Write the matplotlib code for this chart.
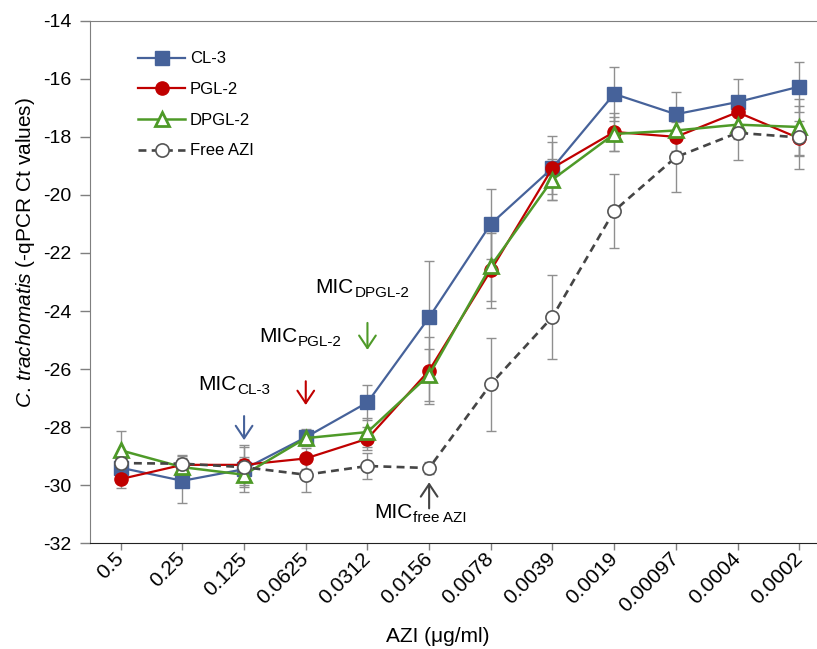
import matplotlib
matplotlib.use("Agg")
from matplotlib import pyplot as plt
import matplotlib.transforms as mtransforms

plt.rcParams['font.family'] = ['Liberation Sans', 'DejaVu Sans']
plt.rcParams['mathtext.fontset'] = 'custom'
plt.rcParams['mathtext.rm'] = 'Liberation Sans'
plt.rcParams['mathtext.it'] = 'Liberation Sans:italic'
plt.rcParams['axes.unicode_minus'] = False

# AZI concentrations (ug/ml)
conc = ['0.5', '0.25', '0.125', '0.0625', '0.0312', '0.0156', '0.0078',
        '0.0039', '0.0019', '0.00097', '0.0004', '0.0002']

cl3 = [-29.4, -29.85, -29.45, -28.35, -27.15, -24.22, -21.0, -19.07, -16.52, -17.22, -16.8, -16.27]
cl3_err = [0.3, 0.75, 0.35, 0.3, 0.6, 1.95, 1.2, 1.1, 0.93, 0.75, 0.8, 0.86]
pgl2 = [-29.79, -29.3, -29.3, -29.08, -28.4, -26.05, -22.6, -19.07, -17.83, -18.0, -17.15, -18.05]
pgl2_err = [0.3, 0.3, 0.7, 0.35, 0.4, 1.15, 1.3, 0.9, 0.65, 0.55, 0.5, 0.6]
dpgl2 = [-28.8, -29.38, -29.64, -28.38, -28.17, -26.2, -22.45, -19.47, -17.9, -17.78, -17.58, -17.66]
dpgl2_err = [0.65, 0.3, 0.6, 0.25, 0.5, 0.9, 1.2, 0.7, 0.6, 0.7, 0.5, 0.95]
free_azi = [-29.24, -29.26, -29.38, -29.64, -29.34, -29.41, -26.52, -24.2, -20.55, -18.7, -17.86, -18.02]
free_err = [0.2, 0.3, 0.7, 0.6, 0.45, 0.2, 1.6, 1.45, 1.27, 1.2, 0.93, 1.07]

blue = '#46629a'
red = '#c00000'
green = '#4e9a28'
grey = '#454545'
errc = '#8f8f8f'

fig = plt.figure(figsize=(8.17, 6.49), dpi=100)
ax = fig.add_axes([0.110, 0.163, 0.906, 0.805])
x = list(range(len(conc)))

series = [
    (cl3, cl3_err, 'CL-3', dict(color=blue, marker='s', mfc=blue, mec=blue, ls='-', lw=1.6, ms=9.5)),
    (pgl2, pgl2_err, 'PGL-2', dict(color=red, marker='o', mfc=red, mec=red, ls='-', lw=1.6, ms=9.5)),
    (dpgl2, dpgl2_err, 'DPGL-2', dict(color=green, marker='^', mfc='white', mec=green, mew=2, ls='-', lw=1.8, ms=10)),
    (free_azi, free_err, 'Free AZI', dict(color=grey, marker='o', mfc='white', mec='#555555', mew=1.2, ls=(0, (3, 2)), lw=1.9, ms=9.5)),
]

for vals, err, lab, st in series:
    ax.errorbar(x, vals, yerr=err, fmt='none', ecolor=errc, elinewidth=1, capsize=3.5, capthick=1, zorder=1)
for i, (vals, err, lab, st) in enumerate(series):
    ax.plot(x, vals, label=lab, zorder=2 + i, **st)

ax.set_xlim(-0.5, len(conc) - 0.5)
ax.set_ylim(-32, -14)
ax.set_yticks(range(-32, -13, 2))
ax.set_xticks(x)
ax.set_xticklabels(conc, rotation=45, ha='right', va='center', rotation_mode='anchor')
off = mtransforms.ScaledTranslation(5 / 72, -6 / 72, fig.dpi_scale_trans)
for t in ax.get_xticklabels():
    t.set_transform(t.get_transform() + off)

ax.tick_params(axis='x', labelsize=15, length=5, width=1, color='#7f7f7f', pad=4)
ax.tick_params(axis='y', labelsize=14, length=7, width=1, color='#7f7f7f', pad=6)
ax.spines['right'].set_visible(False)
ax.spines['top'].set_color('#7f7f7f')
ax.spines['left'].set_color('#7f7f7f')
ax.spines['bottom'].set_color('#222222')

ax.set_xlabel('AZI (\u03bcg/ml)', fontsize=15)
ax.xaxis.set_label_coords(0.47, -0.161)
ax.set_ylabel(r'$\it{C.\,trachomatis}$ (-qPCR Ct values)', fontsize=15)
ax.yaxis.set_label_coords(-0.072, 0.557)

leg = ax.legend(loc='upper left', bbox_to_anchor=(0.045, 0.97), frameon=False, fontsize=12,
                handlelength=2.8, labelspacing=0.94, handletextpad=0.3, numpoints=1)

# MIC labels and arrows
def mic(xp, yp, sub):
    t = ax.text(xp, yp, 'MIC', fontsize=15, ha='left', va='baseline')
    ax.annotate(sub, xy=(1, 0), xycoords=t, xytext=(0.3, 0), textcoords='offset points',
                fontsize=11, ha='left', va='baseline')

mic(1.26, -26.72, 'CL-3')
mic(2.25, -25.07, 'PGL-2')
mic(3.16, -23.38, 'DPGL-2')
mic(4.11, -31.14, 'free AZI')

arrows = [(2, -27.62, -28.45, blue), (3, -26.42, -27.24, red),
          (4, -24.41, -25.34, green), (5, -30.8, -29.9, grey)]
for xa, y0, y1, c in arrows:
    ax.annotate('', xy=(xa, y1), xytext=(xa, y0),
                arrowprops=dict(arrowstyle='->,head_length=0.45,head_width=0.3', color=c, lw=1.5,
                                shrinkA=0, shrinkB=0, mutation_scale=20))

fig.savefig('out.png', dpi=100)
